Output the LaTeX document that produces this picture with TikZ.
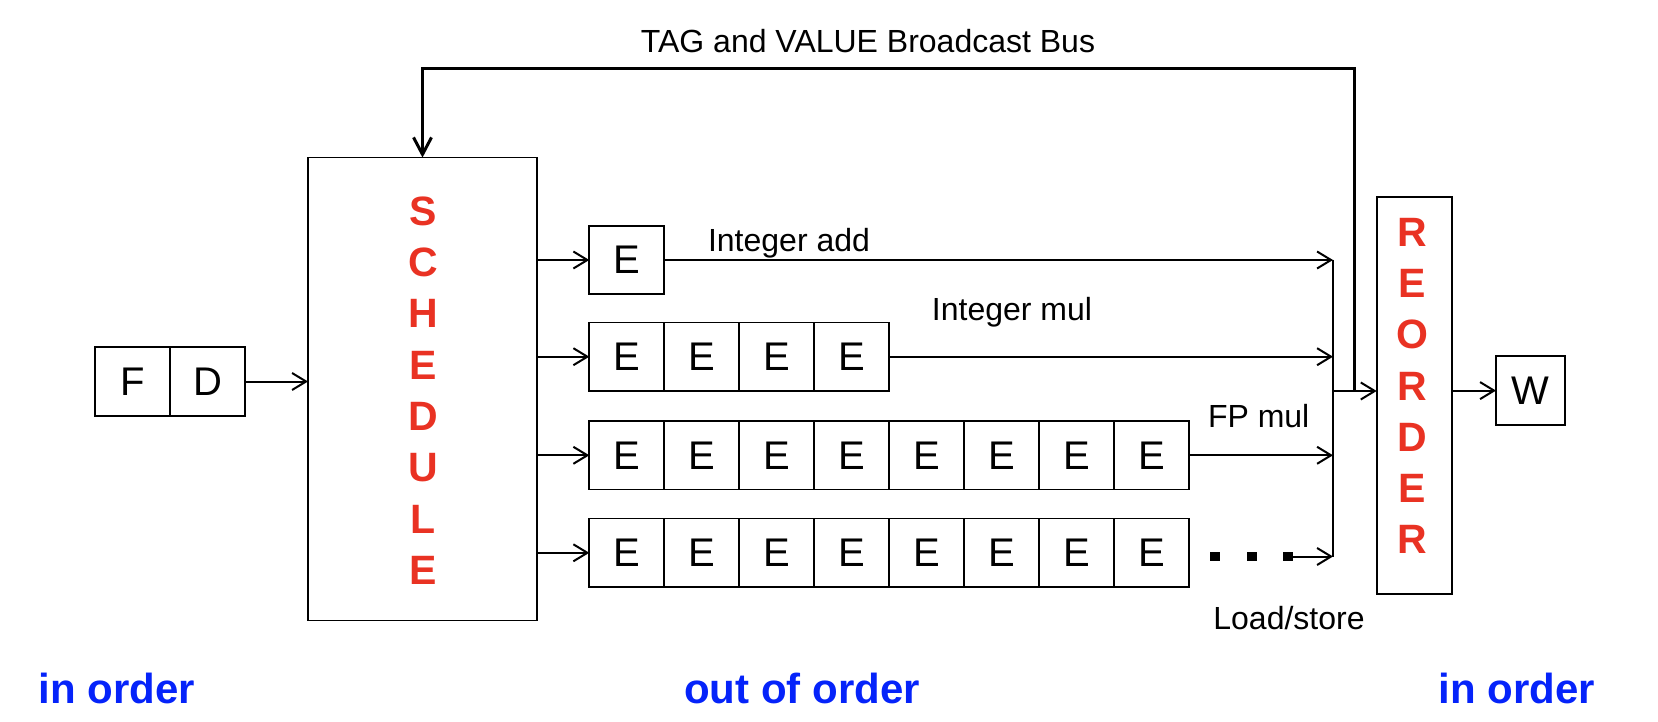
\documentclass[tikz,border=0pt]{standalone}
\usepackage{fontspec}
\setmainfont{Liberation Sans}
\usetikzlibrary{arrows.meta}
\definecolor{myred}{RGB}{233,50,35}
\definecolor{myblue}{RGB}{5,35,250}
\begin{document}
\begin{tikzpicture}[x=1pt,y=-1pt,
  cell/.style={draw,line width=1.7pt,minimum width=75pt,minimum height=68.6pt,inner sep=0pt,outer sep=0pt,font=\fontsize{40}{40}\selectfont},
  bigbox/.style={draw,line width=1.7pt,inner sep=0pt,outer sep=0pt,anchor=north west},
  lbl/.style={font=\fontsize{32}{32}\selectfont,anchor=base,inner sep=0pt},
  big/.style={font=\fontsize{41}{41}\selectfont\bfseries,text=myred,inner sep=0pt},
  bottomlbl/.style={font=\fontsize{42}{42}\selectfont\bfseries,text=myblue,anchor=base,inner sep=0pt},
  arr/.style={line width=2pt,-{Straight Barb[length=14pt,width=17pt]}},
  ln/.style={line width=2pt},
  bus/.style={line width=3pt,-{Straight Barb[length=17pt,width=18pt]}},
  dotbox/.style={fill=black,minimum size=9.5pt,inner sep=0pt,outer sep=0pt}]
\useasboundingbox (0,0) rectangle (1658,722);

% F D
\node[cell,anchor=west] (F) at (95,381.5) {F};
\node[cell,anchor=west] (D) at (F.east) {D};

% schedule
\node[bigbox,minimum width=229pt,minimum height=463pt] (sched) at (308,157.6) {};
\foreach \l [count=\i] in {S,C,H,E,D,U,L,E}
  \node[big] (s\i) at (423,{211+51.4*(\i-1)}) {\l};

% reorder
\node[bigbox,minimum width=75.3pt,minimum height=397pt] (reorder) at (1376.7,197.3) {};
\foreach \l [count=\i] in {R,E,O,R,D,E,R}
  \node[big] (r\i) at (1412,{232+51.3*(\i-1)}) {\l};

% W
\node[cell,minimum width=69pt,anchor=west] (W) at (1496,390.6) {W};

% rows
\node[cell,anchor=west] (a1) at (589.3,260) {E};
\foreach \i in {1,...,4}
  \node[cell,anchor=west] (b\i) at ({589.3+75*(\i-1)},356.7) {E};
\foreach \i in {1,...,8}
  \node[cell,anchor=west] (c\i) at ({589.3+75*(\i-1)},455.3) {E};
\foreach \i in {1,...,8}
  \node[cell,anchor=west] (d\i) at ({589.3+75*(\i-1)},552.8) {E};

% dots
\node[dotbox] (dot1) at (1215,556.5) {};
\node[dotbox] (dot2) at (1252,556.5) {};
\node[dotbox] (dot3) at (1288,556.5) {};

% collector coordinates
\coordinate (ctop) at (1333,260);
\coordinate (cbot) at (1333,556.5);
\coordinate (cmid) at (1333,391);
\coordinate (busr) at (1354,68.7);
\coordinate (busl) at (422.5,68.7);

% connectors
\draw[arr] (D.east) -- (D.east -| sched.west);
\draw[arr] (sched.east |- a1.west) -- (a1.west);
\draw[arr] (sched.east |- b1.west) -- (b1.west);
\draw[arr] (sched.east |- c1.west) -- (c1.west);
\draw[arr] (sched.east |- d1.west) -- (d1.west);

\draw[arr] (a1.east) -- (a1.east -| ctop);
\draw[arr] (b4.east) -- (b4.east -| ctop);
\draw[arr] (c8.east) -- (c8.east -| ctop);
\draw[arr] (dot3.east) -- (dot3.east -| ctop);
\draw[ln] (ctop) -- (cbot);
\draw[arr] (cmid) -- (cmid -| reorder.west);
\draw[bus] (cmid -| busr) -- (busr) -- (busl) -- (busl |- sched.north);
\draw[arr] (reorder.east |- W.west) -- (W.west);

% labels
\node[lbl] (tadd) at (789,251.7) {Integer add};
\node[lbl] (tmul) at (1012,320) {Integer mul};
\node[lbl] (tfp) at (1258.7,427) {FP mul};
\node[lbl] (tls) at (1289,629) {Load/store};
\node[lbl] (tbus) at (868,53) {TAG and VALUE Broadcast Bus};

\node[bottomlbl] (io1) at (117,703) {in order};
\node[bottomlbl] (ooo) at (802,703) {out of order};
\node[bottomlbl] (io2) at (1517,703) {in order};
\end{tikzpicture}
\end{document}
